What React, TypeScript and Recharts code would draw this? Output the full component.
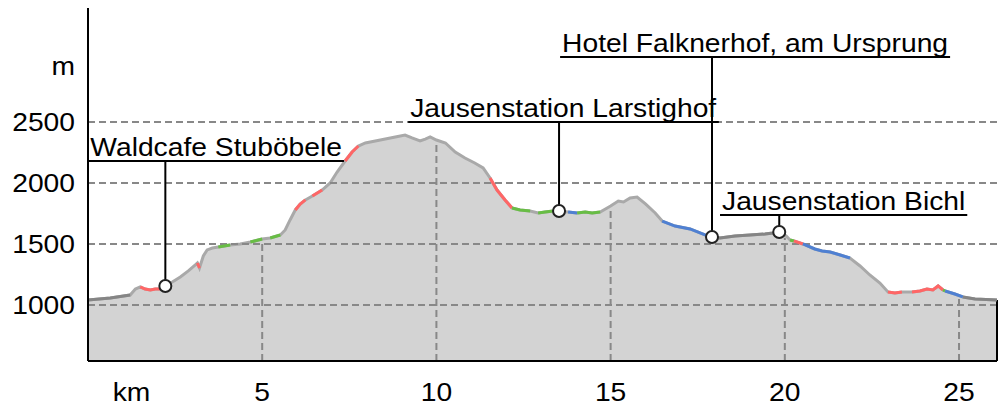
import React, { useLayoutEffect, useRef, useState } from 'react';
import { ComposedChart, Area, Line, XAxis, YAxis, ReferenceLine, ReferenceDot } from 'recharts';

// ---------- data ----------
const profileKm = [
  0.0, 0.64, 1.21, 1.36, 1.5, 1.64, 1.79, 1.93, 2.07, 2.22, 2.42, 2.65, 2.88, 3.08, 3.14, 3.2, 3.31, 3.42, 3.57, 3.74,
  4.08, 4.37, 4.66, 5.0, 5.23, 5.52, 5.66, 5.8, 5.95, 6.09, 6.24, 6.44, 6.72, 6.95, 7.15, 7.38, 7.58, 7.76, 7.96, 8.39,
  8.82, 9.1, 9.3, 9.53, 9.68, 9.82, 10.0, 10.26, 10.54, 10.82, 11.1, 11.34, 11.54, 11.74, 11.97, 12.17, 12.4, 12.69, 12.92, 13.12,
  13.35, 13.52, 13.78, 14.04, 14.27, 14.47, 14.7, 15.0, 15.22, 15.37, 15.56, 15.76, 16.0, 16.28, 16.48, 16.85, 17.28, 17.71, 17.91, 18.14,
  18.57, 19.0, 19.43, 19.66, 19.84, 20.04, 20.15, 20.26, 20.52, 20.86, 21.07, 21.3, 21.59, 21.87, 22.16, 22.44, 22.73, 22.96, 23.16, 23.36,
  23.65, 23.88, 24.08, 24.25, 24.4, 24.54, 24.6, 24.88, 25.11, 25.46, 26.09,
];
const profileElev = [
  1041, 1057, 1082, 1131, 1148, 1131, 1123, 1131, 1131, 1156, 1188, 1229, 1279, 1328, 1344, 1303, 1402, 1451, 1467, 1475,
  1492, 1500, 1516, 1541, 1549, 1574, 1615, 1697, 1779, 1828, 1861, 1893, 1942, 2000, 2090, 2180, 2254, 2303, 2328, 2352,
  2377, 2393, 2369, 2344, 2360, 2377, 2352, 2328, 2254, 2205, 2164, 2123, 2041, 1942, 1861, 1795, 1779, 1770, 1754, 1762,
  1770, 1770, 1762, 1754, 1762, 1754, 1762, 1811, 1852, 1844, 1877, 1885, 1828, 1754, 1688, 1647, 1623, 1574, 1557, 1549,
  1565, 1574, 1582, 1590, 1598, 1565, 1533, 1525, 1500, 1459, 1443, 1434, 1410, 1385, 1320, 1246, 1180, 1107, 1098, 1107,
  1107, 1115, 1131, 1123, 1156, 1123, 1115, 1090, 1066, 1049, 1041,
];

// surface-type segments along the route
const segFrom = [0, 1.5, 3.14, 3.74, 4.66, 5.23, 5.95, 6.44, 7.38, 11.54, 12.17, 12.92, 13.78, 14.04, 16.48, 17.91, 20.15, 20.26, 20.52, 22.96, 23.65, 24.54, 24.6, 25.11];
const segTo = [1.21, 2.07, 3.2, 4.08, 5.0, 5.52, 6.24, 6.72, 7.76, 12.17, 12.69, 13.52, 14.04, 14.7, 17.91, 19.84, 20.26, 20.52, 21.87, 23.36, 24.54, 24.6, 25.11, 26.09];
const segType = ['dark', 'red', 'red', 'green', 'green', 'green', 'red', 'red', 'red', 'red', 'green', 'green', 'blue', 'green', 'blue', 'dark', 'green', 'red', 'blue', 'red', 'red', 'green', 'blue', 'dark'];

const poiNames = ['Waldcafe Stuböbele', 'Jausenstation Larstighof', 'Hotel Falknerhof, am Ursprung', 'Jausenstation Bichl'];
const poiKm = [2.22, 13.52, 17.91, 19.84];
const poiElev = [1156, 1770, 1557, 1598];

const xTicks = [1.25, 5, 10, 15, 20, 25];
const xTickLabels = ['km', '5', '10', '15', '20', '25'];
const yTicks = [1000, 1500, 2000, 2500, 2960];
const yTickLabels = ['1000', '1500', '2000', '2500', 'm'];
const gridY = [1000, 1500, 2000, 2500];
const gridX = [5, 10, 15, 20, 25];

// ---------- layout / style ----------
const X_DOMAIN: [number, number] = [0, 26.09];
const Y_DOMAIN: [number, number] = [541, 3434];
const labelAnchorKm = [0.01, 9.19, 13.55, 18.14];
const labelLevel = [2180, 2500, 3032, 1738];
const FONT = 'Liberation Sans, Arial, Helvetica, sans-serif';
const FS = 25;
const SX = 1.13;
const colors: Record<string, string> = {
  dark: '#858585',
  red: '#ff6666',
  green: '#68bd45',
  blue: '#4f80d2',
};
const BASE_LINE = '#a9a9a9';
const FILL = '#d3d3d3';
const GRID = '#888888';

const table = profileKm.map((km, i) => {
  const row: Record<string, number | null> = { km, elev: profileElev[i] };
  segFrom.forEach((a, j) => {
    row['s' + j] = km >= a - 1e-9 && km <= segTo[j] + 1e-9 ? profileElev[i] : null;
  });
  return row;
});

function elevAt(k: number): number {
  for (let i = 0; i < profileKm.length - 1; i++) {
    const a = profileKm[i];
    const b = profileKm[i + 1];
    if (k >= a && k <= b) {
      const t = (k - a) / (b - a);
      return profileElev[i] + t * (profileElev[i + 1] - profileElev[i]);
    }
  }
  return profileElev[profileElev.length - 1];
}

function XTick(props: any) {
  const { x, y, payload } = props;
  const idx = xTicks.indexOf(payload.value);
  return (
    <text
      transform={`translate(${x},${y + 40}) scale(${SX},1)`}
      textAnchor="middle"
      fontSize={FS}
      fontFamily={FONT}
      fill="#000"
    >
      {idx >= 0 ? xTickLabels[idx] : payload.value}
    </text>
  );
}

function YTick(props: any) {
  const { x, y, payload } = props;
  const idx = yTicks.indexOf(payload.value);
  return (
    <text
      transform={`translate(${x - 13},${y + 9}) scale(${SX},1)`}
      textAnchor="end"
      fontSize={FS}
      fontFamily={FONT}
      fill="#000"
    >
      {idx >= 0 ? yTickLabels[idx] : payload.value}
    </text>
  );
}

function AnnotLabel({ cx, cy, text }: { cx: number; cy: number; text: string }) {
  const ref = useRef<SVGTextElement>(null);
  const [w, setW] = useState(0);
  useLayoutEffect(() => {
    if (ref.current) setW(ref.current.getBBox().width * SX);
  }, [text, cx, cy]);
  return (
    <g>
      <text
        ref={ref}
        transform={`translate(${cx + 2},${cy - 5}) scale(${SX},1)`}
        fontSize={FS}
        fontFamily={FONT}
        fill="#000"
      >
        {text}
      </text>
      <line x1={cx} x2={cx + w + 4} y1={cy} y2={cy} stroke="#000" strokeWidth={2} />
    </g>
  );
}

export default function App() {
  return (
    <div style={{ position: 'absolute', left: 0, top: 0, width: 1004, height: 406, background: '#fff' }}>
      <ComposedChart width={1004} height={406} data={table} margin={{ top: 8, right: 7, bottom: 0, left: 0 }}>
        <XAxis
          dataKey="km"
          type="number"
          domain={X_DOMAIN}
          allowDataOverflow
          ticks={xTicks}
          interval={0}
          tickLine={false}
          tickSize={0}
          tickMargin={0}
          height={45}
          axisLine={{ stroke: '#000', strokeWidth: 2 }}
          tick={<XTick />}
        />
        <YAxis
          type="number"
          domain={Y_DOMAIN}
          allowDataOverflow
          ticks={yTicks}
          interval={0}
          tickLine={false}
          tickSize={0}
          tickMargin={0}
          width={88}
          axisLine={{ stroke: '#000', strokeWidth: 2 }}
          tick={<YTick />}
        />
        <Area
          dataKey="elev"
          type="linear"
          baseValue="dataMin"
          stroke={BASE_LINE}
          strokeWidth={3}
          fill={FILL}
          fillOpacity={1}
          dot={false}
          activeDot={false}
          isAnimationActive={false}
        />
        {gridY.map((v) => (
          <ReferenceLine key={'gy' + v} y={v} stroke={GRID} strokeWidth={2} strokeDasharray="7 4" />
        ))}
        {gridX.map((k) => (
          <ReferenceLine
            key={'gx' + k}
            segment={[{ x: k, y: Y_DOMAIN[0] }, { x: k, y: elevAt(k) - 20 }]}
            stroke={GRID}
            strokeWidth={2}
            strokeDasharray="7 4"
          />
        ))}
        <ReferenceLine
          segment={[
            { x: profileKm[profileKm.length - 1], y: Y_DOMAIN[0] },
            { x: profileKm[profileKm.length - 1], y: profileElev[profileElev.length - 1] },
          ]}
          stroke="#000"
          strokeWidth={2}
        />
        {segFrom.map((_, j) => (
          <Line
            key={'s' + j}
            dataKey={'s' + j}
            type="linear"
            stroke={colors[segType[j]]}
            strokeWidth={3}
            dot={false}
            activeDot={false}
            connectNulls={false}
            isAnimationActive={false}
          />
        ))}
        {poiNames.map((name, i) => (
          <ReferenceLine
            key={'lead' + i}
            segment={[{ x: poiKm[i], y: poiElev[i] }, { x: poiKm[i], y: labelLevel[i] }]}
            stroke="#000"
            strokeWidth={2}
          />
        ))}
        {poiNames.map((name, i) => (
          <ReferenceDot
            key={'poi' + i}
            x={poiKm[i]}
            y={poiElev[i]}
            r={6}
            fill="#fff"
            stroke="#222"
            strokeWidth={2}
          />
        ))}
        {poiNames.map((name, i) => (
          <ReferenceDot
            key={'lbl' + i}
            x={labelAnchorKm[i]}
            y={labelLevel[i]}
            r={1}
            shape={(p: any) => <AnnotLabel cx={p.cx} cy={p.cy} text={name} />}
          />
        ))}
      </ComposedChart>
    </div>
  );
}
